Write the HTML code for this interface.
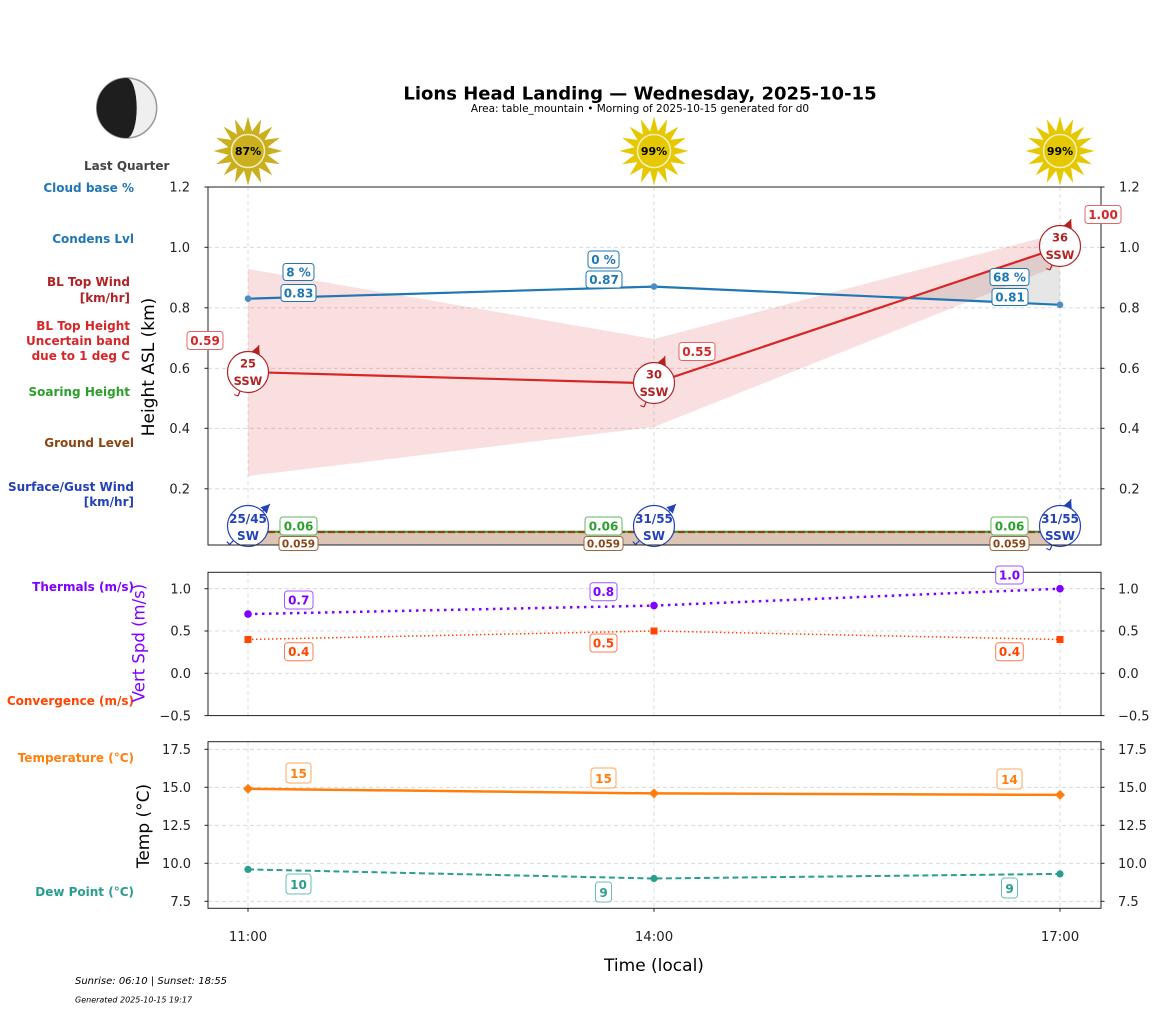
<!DOCTYPE html>
<html><head><meta charset="utf-8"><style>
html,body{margin:0;padding:0;background:#fff;}
svg{display:block;font-family:"DejaVu Sans","Liberation Sans",sans-serif;}
.lab{font-weight:bold;font-size:12px;text-anchor:end;}
.tk{font-size:13px;fill:#222;}
.bx{font-weight:bold;font-size:12px;text-anchor:middle;}
.grid{stroke:#d4d4d4;stroke-width:0.8;stroke-dasharray:4,3;fill:none;}
</style></head><body>
<svg width="1157" height="1011" viewBox="0 0 1157 1011" xmlns="http://www.w3.org/2000/svg">
<rect width="1157" height="1011" fill="#fff"/>

<!-- Moon -->
<circle cx="126.7" cy="108" r="30" fill="#efefef" stroke="#999" stroke-width="1.5"/>
<path d="M126.7,78 A30,30 0 0 0 126.7,138 A10,30 0 0 0 126.7,78 Z" fill="#1e1e1e"/>
<text x="126.7" y="170" font-size="12" font-weight="bold" fill="#444" text-anchor="middle">Last Quarter</text>

<!-- Title -->
<text x="640" y="99.5" font-size="18" font-weight="bold" text-anchor="middle" fill="#000">Lions Head Landing — Wednesday, 2025-10-15</text>
<text x="640" y="112" font-size="10.5" text-anchor="middle" fill="#000">Area: table_mountain • Morning of 2025-10-15 generated for d0</text>

<!-- Suns -->
<g transform="translate(248,151)">
<polygon fill="#c9b01c" points="0,-34.5 3.9,-19.6 13.2,-31.9 11.1,-16.6 24.4,-24.4 16.6,-11.1 31.9,-13.2 19.6,-3.9 34.5,0 19.6,3.9 31.9,13.2 16.6,11.1 24.4,24.4 11.1,16.6 13.2,31.9 3.9,19.6 0,34.5 -3.9,19.6 -13.2,31.9 -11.1,16.6 -24.4,24.4 -16.6,11.1 -31.9,13.2 -19.6,3.9 -34.5,0 -19.6,-3.9 -31.9,-13.2 -16.6,-11.1 -24.4,-24.4 -11.1,-16.6 -13.2,-31.9 -3.9,-19.6"/>
<circle r="16.5" fill="#c9b01c" stroke="#f3eecb" stroke-width="1.5"/>
<text y="4" font-size="11" font-weight="bold" text-anchor="middle" fill="#000">87%</text>
</g>
<g transform="translate(654,151)">
<polygon fill="#e6c800" points="0,-34.5 3.9,-19.6 13.2,-31.9 11.1,-16.6 24.4,-24.4 16.6,-11.1 31.9,-13.2 19.6,-3.9 34.5,0 19.6,3.9 31.9,13.2 16.6,11.1 24.4,24.4 11.1,16.6 13.2,31.9 3.9,19.6 0,34.5 -3.9,19.6 -13.2,31.9 -11.1,16.6 -24.4,24.4 -16.6,11.1 -31.9,13.2 -19.6,3.9 -34.5,0 -19.6,-3.9 -31.9,-13.2 -16.6,-11.1 -24.4,-24.4 -11.1,-16.6 -13.2,-31.9 -3.9,-19.6"/>
<circle r="16.5" fill="#e6c800" stroke="#f6f0c6" stroke-width="1.5"/>
<text y="4" font-size="11" font-weight="bold" text-anchor="middle" fill="#000">99%</text>
</g>
<g transform="translate(1060,151)">
<polygon fill="#e6c800" points="0,-34.5 3.9,-19.6 13.2,-31.9 11.1,-16.6 24.4,-24.4 16.6,-11.1 31.9,-13.2 19.6,-3.9 34.5,0 19.6,3.9 31.9,13.2 16.6,11.1 24.4,24.4 11.1,16.6 13.2,31.9 3.9,19.6 0,34.5 -3.9,19.6 -13.2,31.9 -11.1,16.6 -24.4,24.4 -16.6,11.1 -31.9,13.2 -19.6,3.9 -34.5,0 -19.6,-3.9 -31.9,-13.2 -16.6,-11.1 -24.4,-24.4 -11.1,-16.6 -13.2,-31.9 -3.9,-19.6"/>
<circle r="16.5" fill="#e6c800" stroke="#f6f0c6" stroke-width="1.5"/>
<text y="4" font-size="11" font-weight="bold" text-anchor="middle" fill="#000">99%</text>
</g>

<!-- Left labels -->
<text class="lab" x="134" y="192" fill="#1f77b4">Cloud base %</text>
<text class="lab" x="134" y="243" fill="#1f77b4">Condens Lvl</text>
<text class="lab" x="130" y="286" fill="#b22222">BL Top Wind</text>
<text class="lab" x="130" y="302" fill="#b22222">[km/hr]</text>
<text class="lab" x="130" y="330" fill="#d62728">BL Top Height</text>
<text class="lab" x="130" y="345" fill="#d62728">Uncertain band</text>
<text class="lab" x="130" y="360" fill="#d62728">due to 1 deg C</text>
<text class="lab" x="130" y="396" fill="#2ca02c">Soaring Height</text>
<text class="lab" x="134" y="447" fill="#8b4513">Ground Level</text>
<text class="lab" x="134" y="491" fill="#2442b8">Surface/Gust Wind</text>
<text class="lab" x="134" y="506" fill="#2442b8">[km/hr]</text>
<text class="lab" x="134" y="591" fill="#7f00ff">Thermals (m/s)</text>
<text class="lab" x="134" y="705" fill="#ff4500">Convergence (m/s)</text>
<text class="lab" x="134" y="762" fill="#ff7f0e">Temperature (°C)</text>
<text class="lab" x="134" y="896" fill="#2a9d8f">Dew Point (°C)</text>

<!-- ===== Panel 1 ===== -->
<g class="grid">
<line x1="208" y1="247.3" x2="1101" y2="247.3"/>
<line x1="208" y1="307.8" x2="1101" y2="307.8"/>
<line x1="208" y1="368.3" x2="1101" y2="368.3"/>
<line x1="208" y1="428.3" x2="1101" y2="428.3"/>
<line x1="208" y1="488.8" x2="1101" y2="488.8"/>
<line x1="248" y1="187" x2="248" y2="545"/>
<line x1="654" y1="187" x2="654" y2="545"/>
<line x1="1060" y1="187" x2="1060" y2="545"/>
</g>
<!-- uncertainty band -->
<polygon points="248,269 654,339 1060,233 1060,265 654,427 248,476" fill="#d62728" fill-opacity="0.15"/>
<!-- gray cloud region -->
<polygon points="908.7,298 1060,247.3 1060,304.8" fill="#808080" fill-opacity="0.2"/>
<!-- ground fill -->
<rect x="248" y="532" width="812" height="13" fill="#dcc5b5"/>
<line x1="248" y1="531.7" x2="1060" y2="531.7" stroke="#2ca02c" stroke-width="2"/>
<line x1="248" y1="532" x2="1060" y2="532" stroke="#8b4513" stroke-width="2.2" stroke-dasharray="7,3"/>
<!-- cloud base line -->
<polyline points="248,298.7 654,286.6 1060,304.8" fill="none" stroke="#1f77b4" stroke-width="2.2"/>
<circle cx="248" cy="298.7" r="3.3" fill="#4a8cc4"/>
<circle cx="654" cy="286.6" r="3.3" fill="#4a8cc4"/>
<circle cx="1060" cy="304.8" r="3.3" fill="#4a8cc4"/>
<!-- BL top line -->
<polyline points="248,372 654,383.4 1060,247.3" fill="none" stroke="#d62728" stroke-width="2.2"/>

<!-- BL wind circles -->
<g stroke="#b22222" stroke-width="1.2" fill="none">
<line x1="238" y1="396" x2="259.1" y2="345.2"/><polyline points="238,396 234.3,394.5"/>
<line x1="644" y1="407" x2="665.1" y2="356.2"/><polyline points="644,407 640.3,405.5"/>
<line x1="1050" y1="270" x2="1071.1" y2="219.2"/><polyline points="1050,270 1046.3,268.5"/>
</g>
<g fill="#b22222">
<polygon points="259.1,345.2 259.8,355.2 251.5,351.8"/>
<polygon points="665.1,356.2 665.8,366.2 657.5,362.8"/>
<polygon points="1071.1,219.2 1071.8,229.2 1063.5,225.8"/>
</g>
<g fill="#fff" stroke="#b22222" stroke-width="1.2">
<circle cx="248" cy="372" r="20.5"/>
<circle cx="654" cy="383" r="20.5"/>
<circle cx="1060" cy="246" r="20.5"/>
</g>
<g font-size="11.5" font-weight="bold" fill="#b22222" text-anchor="middle">
<text x="248" y="367.5">25</text><text x="248" y="385">SSW</text>
<text x="654" y="378.5">30</text><text x="654" y="396">SSW</text>
<text x="1060" y="241.5">36</text><text x="1060" y="259">SSW</text>
</g>

<!-- Surface wind circles -->
<g stroke="#2442b8" stroke-width="1.2" fill="none">
<line x1="229.6" y1="544.4" x2="269.9" y2="504.1"/><polyline points="229.6,544.4 226.8,541.6"/>
<line x1="635.6" y1="544.4" x2="675.9" y2="504.1"/><polyline points="635.6,544.4 632.8,541.6"/>
<line x1="1050" y1="550" x2="1071.1" y2="499.2"/><polyline points="1050,550 1046.3,548.5"/>
</g>
<g fill="#2442b8">
<polygon points="269.9,504.1 266.8,513.6 260.4,507.2"/>
<polygon points="675.9,504.1 672.8,513.6 666.4,507.2"/>
<polygon points="1071.1,499.2 1071.8,509.2 1063.5,505.8"/>
</g>
<g fill="#fff" stroke="#2442b8" stroke-width="1.2">
<circle cx="248" cy="526" r="20.5"/>
<circle cx="654" cy="526" r="20.5"/>
<circle cx="1060" cy="526" r="20.5"/>
</g>
<g font-size="12" font-weight="bold" fill="#2442b8" text-anchor="middle">
<text x="248" y="523">25/45</text><text x="248" y="540">SW</text>
<text x="654" y="523">31/55</text><text x="654" y="540">SW</text>
<text x="1060" y="523">31/55</text><text x="1060" y="540">SSW</text>
</g>

<!-- Panel 1 frame -->
<rect x="208" y="187" width="893" height="358" fill="none" stroke="#222" stroke-width="1"/>
<g stroke="#222" stroke-width="1">
<line x1="204.5" y1="187" x2="208" y2="187"/><line x1="204.5" y1="247.3" x2="208" y2="247.3"/><line x1="204.5" y1="307.8" x2="208" y2="307.8"/><line x1="204.5" y1="368.3" x2="208" y2="368.3"/><line x1="204.5" y1="428.3" x2="208" y2="428.3"/><line x1="204.5" y1="488.8" x2="208" y2="488.8"/>
<line x1="1101" y1="187" x2="1104.5" y2="187"/><line x1="1101" y1="247.3" x2="1104.5" y2="247.3"/><line x1="1101" y1="307.8" x2="1104.5" y2="307.8"/><line x1="1101" y1="368.3" x2="1104.5" y2="368.3"/><line x1="1101" y1="428.3" x2="1104.5" y2="428.3"/><line x1="1101" y1="488.8" x2="1104.5" y2="488.8"/>
</g>
<g class="tk" text-anchor="end">
<text x="190" y="191.7">1.2</text><text x="190" y="252">1.0</text><text x="190" y="312.5">0.8</text><text x="190" y="373">0.6</text><text x="190" y="433">0.4</text><text x="190" y="493.5">0.2</text>
</g>
<g class="tk">
<text x="1119" y="191.7">1.2</text><text x="1119" y="252">1.0</text><text x="1119" y="312.5">0.8</text><text x="1119" y="373">0.6</text><text x="1119" y="433">0.4</text><text x="1119" y="493.5">0.2</text>
</g>
<text transform="translate(154,367) rotate(-90)" font-size="17" text-anchor="middle" fill="#000">Height ASL (km)</text>

<!-- Panel 1 boxes -->
<g stroke-width="1" fill="#fff">
<rect x="283" y="263.5" width="31" height="17" rx="3" stroke="#1f77b4"/>
<rect x="281" y="284.5" width="35" height="17" rx="3" stroke="#1f77b4"/>
<rect x="588" y="251" width="31" height="17" rx="3" stroke="#1f77b4"/>
<rect x="586" y="271" width="36" height="17" rx="3" stroke="#1f77b4"/>
<rect x="990" y="268.5" width="39" height="17" rx="3" stroke="#1f77b4"/>
<rect x="992" y="288.5" width="36" height="17" rx="3" stroke="#1f77b4"/>
<rect x="187" y="331.5" width="36" height="18" rx="3" stroke="#e06666"/>
<rect x="679" y="342.5" width="36" height="18" rx="3" stroke="#e06666"/>
<rect x="1085" y="205.5" width="36" height="18" rx="3" stroke="#e06666"/>
<rect x="280" y="517" width="37" height="18" rx="3" stroke="#5cb85c"/>
<rect x="585" y="517" width="37" height="18" rx="3" stroke="#5cb85c"/>
<rect x="991" y="517" width="37" height="18" rx="3" stroke="#5cb85c"/>
<rect x="279" y="536.5" width="39" height="14" rx="3" stroke="#a0653a"/>
<rect x="584" y="536.5" width="39" height="14" rx="3" stroke="#a0653a"/>
<rect x="990" y="536.5" width="39" height="14" rx="3" stroke="#a0653a"/>
</g>
<g class="bx">
<text x="298.5" y="276.5" fill="#1f77b4">8 %</text>
<text x="298.5" y="297.5" fill="#1f77b4">0.83</text>
<text x="603.5" y="264" fill="#1f77b4">0 %</text>
<text x="604" y="284" fill="#1f77b4">0.87</text>
<text x="1009.5" y="281.5" fill="#1f77b4">68 %</text>
<text x="1010" y="301.5" fill="#1f77b4">0.81</text>
<text x="205" y="345" fill="#d62728">0.59</text>
<text x="697" y="356" fill="#d62728">0.55</text>
<text x="1103" y="219" fill="#d62728">1.00</text>
<text x="298.5" y="530.5" fill="#2ca02c">0.06</text>
<text x="603.5" y="530.5" fill="#2ca02c">0.06</text>
<text x="1009.5" y="530.5" fill="#2ca02c">0.06</text>
<text x="298.5" y="547.5" fill="#8b4513" font-size="10.5">0.059</text>
<text x="603.5" y="547.5" fill="#8b4513" font-size="10.5">0.059</text>
<text x="1009.5" y="547.5" fill="#8b4513" font-size="10.5">0.059</text>
</g>

<!-- ===== Panel 2 ===== -->
<g class="grid">
<line x1="208" y1="588.7" x2="1101" y2="588.7"/>
<line x1="208" y1="631" x2="1101" y2="631"/>
<line x1="208" y1="673.3" x2="1101" y2="673.3"/>
<line x1="248" y1="572.3" x2="248" y2="715.6"/>
<line x1="654" y1="572.3" x2="654" y2="715.6"/>
<line x1="1060" y1="572.3" x2="1060" y2="715.6"/>
</g>
<polyline points="248,639.5 654,631 1060,639.5" fill="none" stroke="#ff4500" stroke-width="1.5" stroke-dasharray="1.5,2.5"/>
<polyline points="248,614.1 654,605.6 1060,588.7" fill="none" stroke="#7f00ff" stroke-width="2.5" stroke-dasharray="2.5,4.5"/>
<g fill="#7f00ff"><circle cx="248" cy="614.1" r="3.8"/><circle cx="654" cy="605.6" r="3.8"/><circle cx="1060" cy="588.7" r="3.8"/></g>
<g fill="#ff4500"><rect x="244.5" y="636" width="7" height="7"/><rect x="650.5" y="627.5" width="7" height="7"/><rect x="1056.5" y="636" width="7" height="7"/></g>
<rect x="208" y="572.3" width="893" height="143.3" fill="none" stroke="#222" stroke-width="1"/>
<g stroke="#222" stroke-width="1">
<line x1="204.5" y1="588.7" x2="208" y2="588.7"/><line x1="204.5" y1="631" x2="208" y2="631"/><line x1="204.5" y1="673.3" x2="208" y2="673.3"/><line x1="204.5" y1="715.6" x2="208" y2="715.6"/>
<line x1="1101" y1="588.7" x2="1104.5" y2="588.7"/><line x1="1101" y1="631" x2="1104.5" y2="631"/><line x1="1101" y1="673.3" x2="1104.5" y2="673.3"/><line x1="1101" y1="715.6" x2="1104.5" y2="715.6"/>
</g>
<g class="tk" text-anchor="end">
<text x="191" y="593.4">1.0</text><text x="191" y="635.7">0.5</text><text x="191" y="678">0.0</text><text x="191" y="720.3">−0.5</text>
</g>
<g class="tk">
<text x="1118" y="593.4">1.0</text><text x="1118" y="635.7">0.5</text><text x="1118" y="678">0.0</text><text x="1118" y="720.3">−0.5</text>
</g>
<text transform="translate(144.5,643) rotate(-90)" font-size="16.5" text-anchor="middle" fill="#7f00ff">Vert Spd (m/s)</text>
<g stroke-width="1" fill="#fff">
<rect x="284.5" y="591" width="28.5" height="18" rx="3" stroke="#a455ff"/>
<rect x="590" y="582.7" width="27" height="18" rx="3" stroke="#a455ff"/>
<rect x="995.7" y="566" width="27.6" height="18" rx="3" stroke="#a455ff"/>
<rect x="284.5" y="642.7" width="28.5" height="18" rx="3" stroke="#ff7a4d"/>
<rect x="590" y="634" width="27" height="18" rx="3" stroke="#ff7a4d"/>
<rect x="995.7" y="642.7" width="27.6" height="18" rx="3" stroke="#ff7a4d"/>
</g>
<g class="bx" font-size="12.5">
<text x="298.7" y="604.5" fill="#7f00ff">0.7</text>
<text x="603.5" y="596.2" fill="#7f00ff">0.8</text>
<text x="1009.5" y="579.5" fill="#7f00ff">1.0</text>
<text x="298.7" y="656.2" fill="#ff4500">0.4</text>
<text x="603.5" y="647.5" fill="#ff4500">0.5</text>
<text x="1009.5" y="656.2" fill="#ff4500">0.4</text>
</g>

<!-- ===== Panel 3 ===== -->
<g class="grid">
<line x1="208" y1="749.3" x2="1101" y2="749.3"/>
<line x1="208" y1="787.3" x2="1101" y2="787.3"/>
<line x1="208" y1="825.3" x2="1101" y2="825.3"/>
<line x1="208" y1="863.3" x2="1101" y2="863.3"/>
<line x1="208" y1="901.3" x2="1101" y2="901.3"/>
<line x1="248" y1="741.7" x2="248" y2="908.3"/>
<line x1="654" y1="741.7" x2="654" y2="908.3"/>
<line x1="1060" y1="741.7" x2="1060" y2="908.3"/>
</g>
<polyline points="248,788.8 654,793.4 1060,794.9" fill="none" stroke="#ff7f0e" stroke-width="2.5"/>
<g fill="#ff7f0e">
<polygon points="248,783.8 253,788.8 248,793.8 243,788.8"/>
<polygon points="654,788.4 659,793.4 654,798.4 649,793.4"/>
<polygon points="1060,789.9 1065,794.9 1060,799.9 1055,794.9"/>
</g>
<polyline points="248,869.4 654,878.5 1060,873.9" fill="none" stroke="#2a9d8f" stroke-width="2" stroke-dasharray="6,3.5"/>
<g fill="#2a9d8f"><circle cx="248" cy="869.4" r="3.6"/><circle cx="654" cy="878.5" r="3.6"/><circle cx="1060" cy="873.9" r="3.6"/></g>
<rect x="208" y="741.7" width="893" height="166.6" fill="none" stroke="#222" stroke-width="1"/>
<g stroke="#222" stroke-width="1">
<line x1="204.5" y1="749.3" x2="208" y2="749.3"/><line x1="204.5" y1="787.3" x2="208" y2="787.3"/><line x1="204.5" y1="825.3" x2="208" y2="825.3"/><line x1="204.5" y1="863.3" x2="208" y2="863.3"/><line x1="204.5" y1="901.3" x2="208" y2="901.3"/>
<line x1="1101" y1="749.3" x2="1104.5" y2="749.3"/><line x1="1101" y1="787.3" x2="1104.5" y2="787.3"/><line x1="1101" y1="825.3" x2="1104.5" y2="825.3"/><line x1="1101" y1="863.3" x2="1104.5" y2="863.3"/><line x1="1101" y1="901.3" x2="1104.5" y2="901.3"/>
<line x1="248" y1="908.3" x2="248" y2="911.8"/><line x1="654" y1="908.3" x2="654" y2="911.8"/><line x1="1060" y1="908.3" x2="1060" y2="911.8"/>
</g>
<g class="tk" text-anchor="end">
<text x="191" y="754">17.5</text><text x="191" y="792">15.0</text><text x="191" y="830">12.5</text><text x="191" y="868">10.0</text><text x="191" y="906">7.5</text>
</g>
<g class="tk">
<text x="1118" y="754">17.5</text><text x="1118" y="792">15.0</text><text x="1118" y="830">12.5</text><text x="1118" y="868">10.0</text><text x="1118" y="906">7.5</text>
</g>
<text transform="translate(149,826) rotate(-90)" font-size="17" text-anchor="middle" fill="#000">Temp (°C)</text>
<g stroke-width="1" fill="#fff">
<rect x="286" y="763" width="25" height="20" rx="3" stroke="#ffa65e"/>
<rect x="591" y="768" width="25" height="20" rx="3" stroke="#ffa65e"/>
<rect x="997" y="769" width="25" height="20" rx="3" stroke="#ffa65e"/>
<rect x="286" y="874" width="25" height="20" rx="3" stroke="#6cbdb3"/>
<rect x="595.5" y="882" width="16" height="20" rx="3" stroke="#6cbdb3"/>
<rect x="1001.5" y="878" width="16" height="20" rx="3" stroke="#6cbdb3"/>
</g>
<g class="bx" font-size="13.5">
<text x="298.5" y="778" fill="#ff7f0e">15</text>
<text x="603.5" y="783" fill="#ff7f0e">15</text>
<text x="1009.5" y="784" fill="#ff7f0e">14</text>
<text x="298.5" y="889" fill="#2a9d8f">10</text>
<text x="603.5" y="897" fill="#2a9d8f">9</text>
<text x="1009.5" y="893" fill="#2a9d8f">9</text>
</g>

<!-- X axis -->
<g class="tk" text-anchor="middle" font-size="13.3">
<text x="248" y="941" font-size="13.3">11:00</text><text x="654" y="941" font-size="13.3">14:00</text><text x="1060" y="941" font-size="13.3">17:00</text>
</g>
<text x="654" y="971" font-size="17" text-anchor="middle" fill="#000">Time (local)</text>

<!-- Footer -->
<text x="75" y="984" font-size="10" font-style="italic" fill="#000">Sunrise: 06:10 | Sunset: 18:55</text>
<text x="75" y="1002.5" font-size="8" font-style="italic" fill="#000">Generated 2025-10-15 19:17</text>
</svg>
</body></html>
